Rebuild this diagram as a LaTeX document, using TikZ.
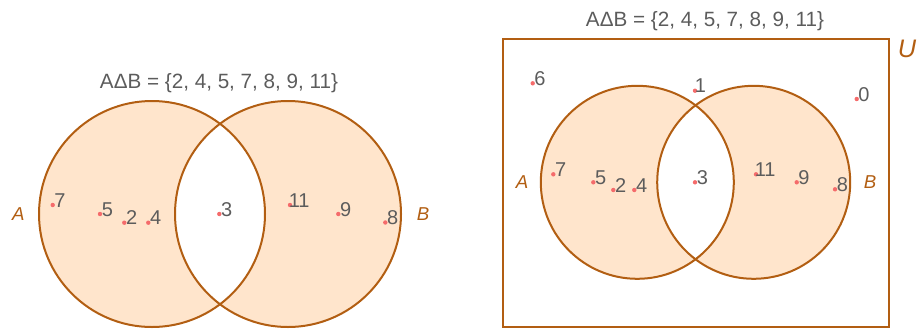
\documentclass[tikz,border=0pt]{standalone}
\usepackage{fontspec}
\setmainfont{Liberation Sans}
\usetikzlibrary{calc}
\definecolor{edge}{HTML}{B25E12}
\definecolor{peach}{HTML}{FFE5CC}
\definecolor{txt}{HTML}{5C5C5C}
\definecolor{dotc}{HTML}{F56B6B}
\tikzset{
  setline/.style={draw=edge, line width=1.5pt},
  elem/.style={anchor=base west, inner sep=0pt, text=txt, font=\fontsize{15}{15}\selectfont},
  setname/.style={inner sep=0pt, text=edge, font=\fontsize{14}{14}\selectfont\itshape},
  title/.style={anchor=base, inner sep=0pt, text=txt, font=\fontsize{15.5}{16}\selectfont},
}
% #1 horizontal shift of the label, #2 name, #3 dot position, #4 label
\newcommand{\vdotelem}[4][1.5]{%
  \coordinate (#2) at (#3);
  \fill[dotc] (#2) circle (2.2);
  \node[elem] (#2l) at ($(#2)+(#1,2)$) {#4};}
\begin{document}
\begin{tikzpicture}[x=0.75pt, y=-0.75pt]
\useasboundingbox (0,0) rectangle (919,329);
% ---------- left diagram ----------
\coordinate (LA) at (152,214);
\coordinate (LB) at (288,214);
\fill[peach, even odd rule] (LA) circle (113) (LB) circle (113);
\draw[setline] (LA) circle (113);
\draw[setline] (LB) circle (113);
\node[title] (ltitle) at (219,88.3) {AΔB = \{2, 4, 5, 7, 8, 9, 11\}};
\node[setname] (lAname) at (18.3,214) {A};
\node[setname] (lBname) at (423,214) {B};
\vdotelem{l7}{52.7,205}{7}
\vdotelem{l5}{100,214}{5}
\vdotelem{l2}{124.3,222.7}{2}
\vdotelem{l4}{148.3,222.7}{4}
\vdotelem{l3}{219.3,214}{3}
\vdotelem[-1.5]{l11}{290,205}{11}
\vdotelem{l9}{338.3,214}{9}
\vdotelem{l8}{385.3,222.5}{8}
% ---------- right diagram ----------
\draw[setline] (503.3,39) rectangle (889,326.7);
\node[setname, font=\fontsize{19}{19}\selectfont\itshape] (Uname) at (907,49) {U};
\coordinate (RA) at (637.3,182.3);
\coordinate (RB) at (753.7,182.3);
\fill[peach, even odd rule] (RA) circle (96.5) (RB) circle (96.5);
\draw[setline] (RA) circle (96.5);
\draw[setline] (RB) circle (96.5);
\node[title] (rtitle) at (705,26) {AΔB = \{2, 4, 5, 7, 8, 9, 11\}};
\node[setname] (rAname) at (522,182.5) {A};
\node[setname] (rBname) at (870,182.5) {B};
\vdotelem{r6}{532.7,83.3}{6}
\vdotelem[-0.5]{r1}{695,90.7}{1}
\vdotelem{r0}{856.7,99}{0}
\vdotelem{r7}{553.3,174.3}{7}
\vdotelem{r5}{593.3,182.3}{5}
\vdotelem{r2}{613.3,190}{2}
\vdotelem{r4}{634.3,190}{4}
\vdotelem{r3}{695,182.3}{3}
\vdotelem[-1.5]{r11}{756,174.3}{11}
\vdotelem{r9}{796.7,182.3}{9}
\vdotelem{r8}{835,189.3}{8}
\end{tikzpicture}
\end{document}
